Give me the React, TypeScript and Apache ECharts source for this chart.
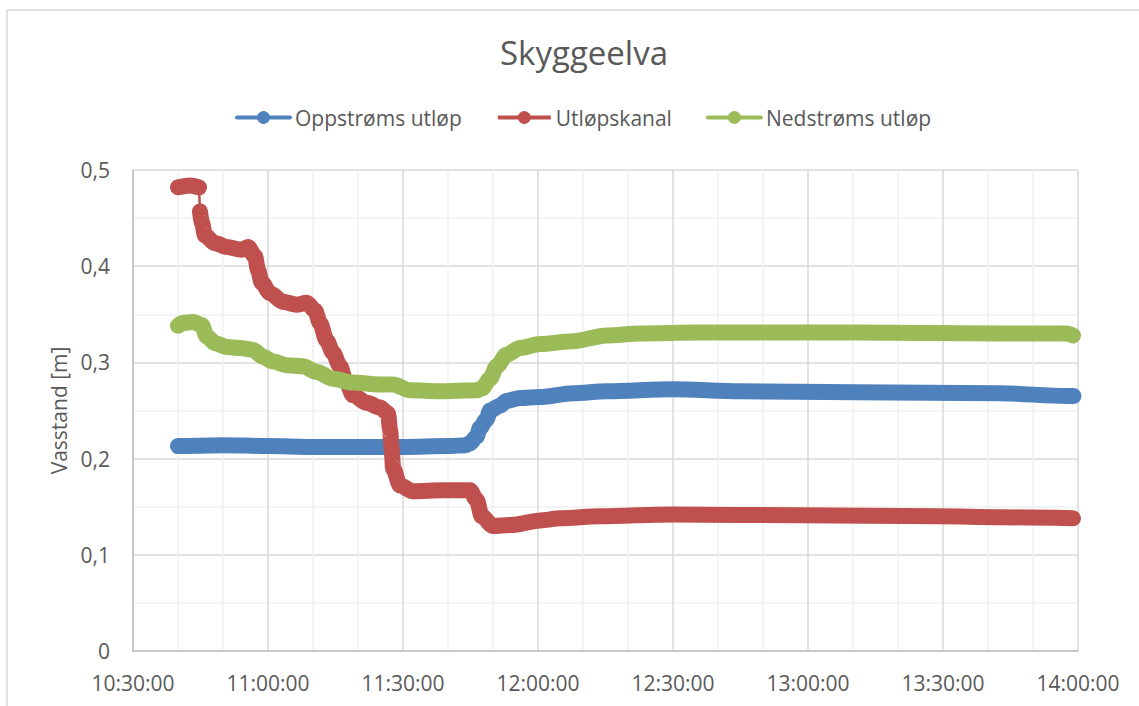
import React, { useEffect, useRef } from "react";
import * as echarts from "echarts";

const TITLE = "Skyggeelva";
const Y_NAME = "Vasstand [m]";
const SERIES_NAMES = ["Oppstrøms utløp", "Utløpskanal", "Nedstrøms utløp"];
const COLORS = ["#4F81BD", "#C0504D", "#9BBB59"];
const X_MIN = "10:30:00";
const X_MAX = "14:00:00";
const X_STEP_MIN = 30;
const Y_MIN = 0;
const Y_MAX = 0.5;
const Y_STEP = 0.1;

// Oppstrøms utløp
const blueTimes = [
  "10:40:00", "10:50:00", "11:00:00", "11:10:00", "11:20:00", "11:30:00", "11:40:00", "11:44:00",
  "11:44:53", "11:46:22", "11:47:07", "11:48:36", "11:49:20", "11:51:33", "11:53:00", "11:56:00",
  "12:00:27", "12:07:47", "12:15:16", "12:30:00", "12:44:53", "13:10:27", "13:42:40", "13:57:30", "13:59:00",
];
const blueValues = [
  0.213, 0.214, 0.213, 0.212, 0.212, 0.212, 0.213, 0.214,
  0.216, 0.223, 0.232, 0.241, 0.25, 0.255, 0.26, 0.263,
  0.264, 0.268, 0.27, 0.272, 0.27, 0.269, 0.268, 0.265, 0.265,
];

// Utløpskanal: first plateau, thin drop, then the rest
const redStartTimes = ["10:40:00", "10:42:40", "10:44:40"];
const redStartValues = [0.482, 0.484, 0.482];
const redTimes = [
  "10:44:53", "10:45:20", "10:46:00", "10:48:13", "10:50:50", "10:54:10", "10:55:33", "10:57:07",
  "10:57:47", "10:58:36", "11:00:27", "11:03:20", "11:06:23", "11:08:36", "11:10:27", "11:11:33",
  "11:13:00", "11:14:27", "11:16:00", "11:17:20", "11:18:53", "11:21:56", "11:24:53", "11:26:40",
  "11:27:07", "11:27:30", "11:27:47", "11:29:20", "11:32:13", "11:38:53", "11:44:53", "11:46:22",
  "11:47:30", "11:50:00", "11:53:47", "12:01:07", "12:04:53", "12:13:47", "12:30:00", "12:58:00",
  "13:29:00", "13:42:40", "13:58:53",
];
const redValues = [
  0.457, 0.445, 0.432, 0.424, 0.42, 0.417, 0.42, 0.41,
  0.396, 0.383, 0.372, 0.363, 0.36, 0.362, 0.354, 0.341,
  0.323, 0.31, 0.296, 0.28, 0.266, 0.258, 0.253, 0.247,
  0.23, 0.21, 0.19, 0.172, 0.166, 0.167, 0.167, 0.157,
  0.14, 0.13, 0.131, 0.136, 0.138, 0.14, 0.142, 0.141,
  0.14, 0.139, 0.138,
];

// Nedstrøms utløp
const greenTimes = [
  "10:40:00", "10:41:00", "10:43:20", "10:45:16", "10:46:23", "10:48:13", "10:50:50", "10:53:47",
  "10:56:40", "10:58:53", "11:01:07", "11:04:13", "11:07:47", "11:10:50", "11:14:27", "11:18:53",
  "11:24:53", "11:27:47", "11:31:33", "11:38:13", "11:46:22", "11:47:33", "11:49:20", "11:50:50",
  "11:53:00", "11:56:00", "12:00:27", "12:07:47", "12:15:16", "12:22:40", "12:36:00", "13:10:27",
  "13:42:40", "13:57:30", "13:58:53",
];
const greenValues = [
  0.338, 0.341, 0.342, 0.339, 0.327, 0.32, 0.316, 0.315,
  0.313, 0.306, 0.301, 0.297, 0.296, 0.29, 0.283, 0.279,
  0.277, 0.277, 0.271, 0.27, 0.271, 0.273, 0.283, 0.296,
  0.308, 0.315, 0.319, 0.322, 0.328, 0.33, 0.331, 0.331,
  0.33, 0.33, 0.328,
];

const toMin = (s: string) => {
  const [h, m, sec] = s.split(":").map(Number);
  return h * 60 + m + (sec || 0) / 60;
};
const fmtTime = (v: number) => {
  const h = Math.floor(v / 60);
  const m = Math.round(v - h * 60);
  const p = (n: number) => String(n).padStart(2, "0");
  return `${p(h)}:${p(m)}:00`;
};
const pair = (ts: string[], vs: number[]) => ts.map((t, i) => [toMin(t), vs[i]]);

const FONT = "'Open Sans', sans-serif";
const TXT = "#595959";

export default function App() {
  const ref = useRef<HTMLDivElement>(null);
  useEffect(() => {
    if (!ref.current) return;
    const chart = echarts.init(ref.current, undefined, { renderer: "svg" });
    const thick = (color: string) => ({
      width: 16,
      color,
      cap: "round",
      join: "round",
    });
    const redData: any[] = [
      ...pair(redStartTimes, redStartValues),
      [toMin(redStartTimes[redStartTimes.length - 1]) + 0.05, "-"],
      ...pair(redTimes, redValues),
    ];
    const connector = [
      pair(redStartTimes, redStartValues)[redStartTimes.length - 1],
      pair(redTimes, redValues)[0],
    ];
    chart.setOption({
      animation: false,
      textStyle: { fontFamily: FONT },
      title: {
        text: TITLE,
        left: 495,
        top: 31,
        textStyle: { fontFamily: FONT, fontSize: 33, fontWeight: "normal", color: TXT },
      },
      legend: {
        data: SERIES_NAMES,
        top: 102,
        left: 230,
        itemWidth: 53,
        itemHeight: 16,
        itemGap: 34,
        lineStyle: { width: 4 },
        textStyle: { fontFamily: FONT, fontSize: 21, color: TXT },
      },
      graphic: [
        {
          type: "rect",
          shape: { x: 7, y: 10, width: 1300, height: 900 },
          style: { fill: "none", stroke: "#D9D9D9", lineWidth: 1.5 },
          silent: true,
          z: -10,
        },
      ],
      grid: { left: 133, top: 170, width: 945, height: 481, containLabel: false },
      xAxis: {
        type: "value",
        min: toMin(X_MIN),
        max: toMin(X_MAX),
        interval: X_STEP_MIN,
        axisLine: { show: true, lineStyle: { color: "#BFBFBF", width: 1.5 } },
        axisTick: { show: false },
        minorTick: { show: false, splitNumber: 3 },
        splitLine: { show: true, lineStyle: { color: "#D9D9D9", width: 1.5 } },
        minorSplitLine: { show: true, lineStyle: { color: "#F0F0F0", width: 1.5 } },
        axisLabel: {
          formatter: (v: number) => fmtTime(v),
          margin: 21,
          fontFamily: FONT,
          fontSize: 21,
          color: TXT,
          showMinLabel: true,
          showMaxLabel: true,
        },
      },
      yAxis: {
        type: "value",
        min: Y_MIN,
        max: Y_MAX,
        interval: Y_STEP,
        name: Y_NAME,
        nameLocation: "middle",
        nameGap: 62,
        nameTextStyle: { fontFamily: FONT, fontSize: 21, color: TXT },
        axisLine: { show: true, lineStyle: { color: "#BFBFBF", width: 1.5 } },
        axisTick: { show: false },
        minorTick: { show: false, splitNumber: 2 },
        splitLine: { show: true, lineStyle: { color: "#D9D9D9", width: 1.5 } },
        minorSplitLine: { show: true, lineStyle: { color: "#F0F0F0", width: 1.5 } },
        axisLabel: {
          formatter: (v: number) => String(Math.round(v * 10) / 10).replace(".", ","),
          margin: 23,
          fontFamily: FONT,
          fontSize: 21,
          color: TXT,
        },
      },
      series: [
        {
          name: SERIES_NAMES[0],
          type: "line",
          data: pair(blueTimes, blueValues),
          color: COLORS[0],
          symbol: "circle",
          showSymbol: false,
          smooth: 0.3,
          smoothMonotone: "x",
          lineStyle: thick(COLORS[0]),
        },
        {
          name: SERIES_NAMES[1],
          type: "line",
          data: connector,
          color: COLORS[1],
          symbol: "circle",
          showSymbol: false,
          lineStyle: { width: 2.5, color: COLORS[1] },
        },
        {
          name: SERIES_NAMES[1],
          type: "line",
          data: redData,
          color: COLORS[1],
          symbol: "circle",
          showSymbol: false,
          smooth: 0.3,
          smoothMonotone: "x",
          connectNulls: false,
          lineStyle: thick(COLORS[1]),
        },
        {
          name: SERIES_NAMES[2],
          type: "line",
          data: pair(greenTimes, greenValues),
          color: COLORS[2],
          symbol: "circle",
          showSymbol: false,
          smooth: 0.3,
          smoothMonotone: "x",
          lineStyle: thick(COLORS[2]),
        },
      ],
    });
    return () => chart.dispose();
  }, []);
  return (
    <div
      ref={ref}
      style={{ position: "fixed", left: 0, top: 0, width: 1139, height: 706, background: "#fff" }}
    />
  );
}
